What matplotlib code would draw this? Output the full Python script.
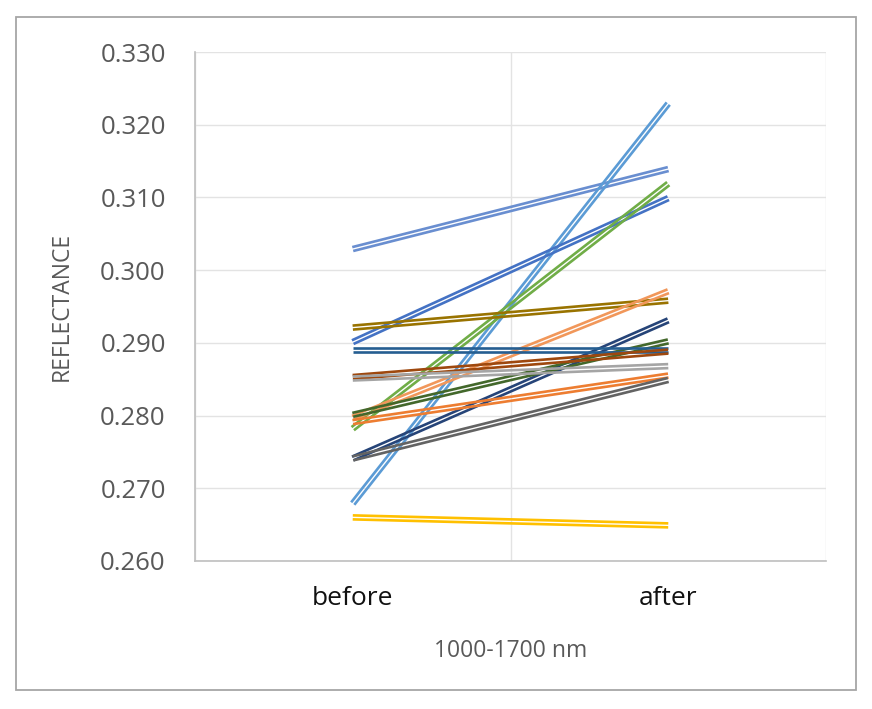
import matplotlib
matplotlib.use("Agg")
import matplotlib.pyplot as plt
import matplotlib.transforms as mtransforms
from matplotlib.patches import Rectangle
import numpy as np

categories = ["before", "after"]

colors = ["#698ED0", "#5B9BD5", "#4472C4", "#70AD47", "#997300", "#F1975A", "#264478",
          "#43682B", "#255E91", "#9E480E", "#A5A5A5", "#ED7D31", "#636363", "#FFC000"]
before = [0.3029, 0.2679, 0.2901, 0.2782, 0.2921, 0.2797, 0.2741,
          0.2801, 0.2890, 0.2853, 0.2851, 0.2791, 0.2741, 0.2660]
after = [0.3139, 0.3229, 0.3099, 0.3119, 0.2958, 0.2971, 0.2931,
         0.2902, 0.2890, 0.2888, 0.2868, 0.2855, 0.2849, 0.2649]

DPI = 100
fig = plt.figure(figsize=(8.72, 7.09), dpi=DPI)
ax = fig.add_axes([195 / 872, 1 - 561 / 709, 631 / 872, 509 / 709])

ax.set_xlim(0, 2)
ax.set_ylim(0.260, 0.330)
ax.set_yticks(np.arange(0.260, 0.3301, 0.010))
ax.set_yticklabels(["%.3f" % v for v in np.arange(0.260, 0.3301, 0.010)])
ax.set_xticks([0.5, 1.5])
ax.set_xticklabels(categories)
ax.set_xticks([0, 1, 2], minor=True)
ax.grid(True, axis="y", color="#E3E3E3", lw=1)
ax.grid(True, axis="x", which="minor", color="#E3E3E3", lw=1)
ax.set_axisbelow(True)
ax.tick_params(axis="both", which="both", length=0)
ax.tick_params(axis="y", labelsize=18.5, labelcolor="#595959", pad=21)
ax.tick_params(axis="x", labelsize=19, labelcolor="#111111", pad=18)
for lab in ax.get_xticklabels() + ax.get_yticklabels():
    lab.set_family("Open Sans")

for s in ["top", "right"]:
    ax.spines[s].set_visible(False)
ax.spines["left"].set_color("#BFBFBF")
ax.spines["bottom"].set_color("#BFBFBF")
ax.spines["left"].set_linewidth(1.2)
ax.spines["bottom"].set_linewidth(1.2)

ax.set_ylabel("REFLECTANCE", fontsize=16.5, color="#595959", family="Open Sans", labelpad=19)
ax.set_xlabel("1000-1700 nm", fontsize=16.5, color="#595959", family="Open Sans", labelpad=20)

# double (compound) lines: two thin strokes offset perpendicular to each line
xs = [0.5, 1.5]
gap = 2.0
for c, b, a in zip(colors, before, after):
    p0 = ax.transData.transform((xs[0], b))
    p1 = ax.transData.transform((xs[1], a))
    d = p1 - p0
    n = np.array([-d[1], d[0]]) / np.hypot(*d)
    for sgn in (-1, 1):
        tr = mtransforms.offset_copy(ax.transData, fig=fig, x=sgn * n[0] * gap,
                                     y=sgn * n[1] * gap, units="dots")
        ax.plot(xs, [b, a], color=c, lw=1.9, transform=tr, solid_capstyle="butt")

fig.patches.append(Rectangle((16 / 872, 1 - 690 / 709), 840 / 872, 673 / 709,
                             transform=fig.transFigure, fill=False,
                             edgecolor="#A6A6A6", lw=1.3))

fig.savefig("out.png", dpi=DPI)
